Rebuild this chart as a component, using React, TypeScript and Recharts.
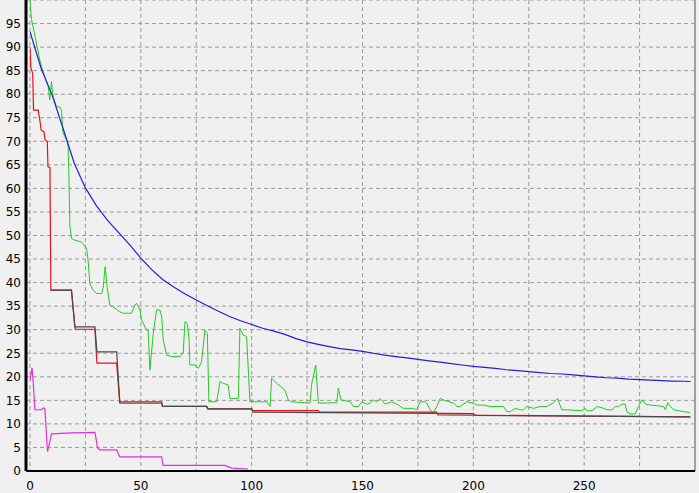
import React from 'react';
import {
  LineChart,
  Line,
  XAxis,
  YAxis,
  CartesianGrid,
  ReferenceLine,
} from 'recharts';

// x tick positions (labels only on every second one) and y ticks
const xTicks = [0, 25, 50, 75, 100, 125, 150, 175, 200, 225, 250, 275];
const yTicks = [0, 5, 10, 15, 20, 25, 30, 35, 40, 45, 50, 55, 60, 65, 70, 75, 80, 85, 90, 95];
// small marks under the x axis, one per iteration
const minorTicks = Array.from({ length: 300 }, (_, i) => i);

// smooth blue curve, sampled every 5 iterations
const blueX = [
  0, 5, 10, 15, 20, 25, 30, 35, 40, 45, 50, 55, 60, 65, 70, 75, 80, 85, 90, 95,
  100, 105, 110, 115, 120, 125, 130, 135, 140, 145, 150, 155, 160, 165, 170, 175,
  180, 185, 190, 195, 200, 205, 210, 215, 220, 225, 230, 235, 240, 245, 250, 255,
  260, 265, 270, 275, 280, 285, 290, 295, 298,
];
const blueY = [
  93.3, 85.5, 79.8, 72.6, 65.3, 60.1, 56.3, 53.2, 50.6, 48, 45.2, 42.7, 40.6, 39, 37.6, 36.3, 35.1, 33.9, 32.8, 31.9,
  31.1, 30.3, 29.7, 29, 28.1, 27.4, 26.9, 26.4, 26, 25.7, 25.4, 25, 24.6, 24.3, 24, 23.7,
  23.4, 23.1, 22.8, 22.5, 22.2, 22, 21.8, 21.5, 21.3, 21.1, 20.9, 20.7, 20.6, 20.4, 20.2, 20,
  19.8, 19.7, 19.5, 19.4, 19.3, 19.2, 19.1, 19.05, 19,
];

// noisy green run
const greenPts: [number, number][] = [
  [0, 100], [0.7, 95.8], [2.9, 90.9], [4.4, 87.3], [5.2, 85.8], [8.2, 81.6], [8.9, 78.8], [9.7, 82.7],
  [10.4, 79.5], [12, 77.3], [13.5, 77.3], [14.2, 76.6], [14.9, 71.8], [16.5, 70.3], [17.2, 68.9],
  [17.5, 63.9], [18, 51.9], [18.7, 49.4], [20.2, 49], [23.3, 48.6], [25.5, 47.3], [26.2, 44.8],
  [27, 39.8], [28.4, 38.4], [30, 37.7], [32.3, 37.7], [33, 38.8], [33.9, 43.4], [34.8, 39.1],
  [36, 35.2], [37.4, 34.9], [40.5, 33.8], [41.9, 33.5], [45.8, 33.5], [47.3, 35.2], [48.1, 35.6],
  [49.6, 34.2], [50.3, 32.1], [52.6, 29.9], [53.3, 29.9], [54.1, 21.4], [55.6, 29.2], [57.1, 34.2],
  [58.6, 34.2], [59.4, 32.8], [60.1, 27.8], [61.6, 24.6], [63.9, 24.3], [67.6, 24.3], [69.1, 25],
  [69.9, 31.7], [70.9, 31.4], [71.8, 27.8], [72.1, 22.5], [74.4, 22.5], [75.9, 21.8], [77.4, 23.2],
  [78.9, 29.9], [80, 29.2], [80.7, 14.7], [84.2, 14.7], [85.7, 19], [87.2, 18.6], [89.4, 18.3],
  [90.2, 15.4], [94, 15.4], [94.7, 30.3], [96.2, 28.9], [97.7, 28.5], [98.5, 21.4], [99.2, 14.7],
  [106.8, 14.7], [108.3, 13.7], [109, 19.7], [111.3, 18.6], [115, 17.2], [116.5, 15.1], [118, 14.7],
  [126.3, 14.4], [127.1, 18.6], [128.9, 22.5], [130.1, 14.4], [138.4, 14.5], [139.1, 17.6],
  [140.3, 15.1], [144.4, 14.7], [145.9, 13.7], [148.1, 13.7], [149.7, 14.7], [151.9, 14.2],
  [153.4, 14.4], [154.9, 15.1], [156.4, 14.7], [157.9, 15.4], [160.2, 14.2], [163.2, 14.7],
  [165.5, 14.2], [168.4, 13.3], [173, 13.3], [174.5, 13], [176, 14.7], [178.2, 14.7], [179, 14.4],
  [180.5, 13], [182, 12.3], [183.5, 13.7], [185, 15.4], [186.5, 15.1], [191.1, 14.4], [192.6, 13.7],
  [194, 13.7], [197.1, 14.7], [200, 14.4], [201.6, 14], [204.6, 14], [207.6, 13.7], [213.6, 13.7],
  [215.1, 12.6], [216.6, 12.6], [218.9, 13.3], [221.1, 13], [222.6, 13], [224.2, 13.7], [227.2, 13.3],
  [230.2, 13.7], [233.2, 13.7], [236.2, 14.5], [238, 15.4], [239.9, 13], [241.9, 13], [249, 12.8],
  [250.5, 13.3], [251.2, 12.8], [253.5, 12.8], [255.8, 13.7], [258.8, 13.3], [260.3, 13], [262.6, 13],
  [264.1, 13.7], [265.5, 13.7], [267, 14.2], [268.5, 14.2], [269.3, 12.6], [270.7, 12.1], [273, 12.1],
  [274.5, 13.7], [276, 15.1], [277.6, 14.2], [279.8, 14], [285.9, 13.7], [286.6, 13], [287.7, 14.5],
  [288.9, 13.7], [290.4, 13], [294.9, 12.6], [297.9, 12.4],
];

// red step run
const redPts: [number, number][] = [
  [0, 90], [0.4, 85.5], [1.2, 84.5], [1.6, 76.6], [3.7, 76.6], [4.6, 74], [5, 72.4], [6.3, 72],
  [6.8, 70.3], [7.8, 70], [8.1, 64.6], [9, 64.4], [9.4, 38.4], [18.7, 38.4], [20.4, 30.1],
  [29.3, 30.1], [30.2, 22.9], [39.1, 22.9], [40.5, 14.4], [59.4, 14.4], [59.8, 13.7], [79.7, 13.7],
  [80.2, 13.2], [100, 13.2], [100.5, 12.8], [130, 12.8], [130.5, 12.5], [183.5, 12.5], [184, 11.9],
  [297.9, 11.5],
];

// dark grey step run
const greyPts: [number, number][] = [
  [9.4, 38.4], [18.7, 38.4], [20.2, 30.6], [29.3, 30.6], [30.2, 25.3], [39.1, 25.3], [40.5, 14.7],
  [59.4, 14.7], [59.8, 13.7], [79.7, 13.7], [80.2, 13.2], [100, 13.2], [100.5, 12.5], [200, 12.2],
  [201, 11.8], [297.9, 11.5],
];

// magenta run
const magentaPts: [number, number][] = [
  [0, 19.3], [0.9, 21.9], [1.4, 19.3], [2.2, 13], [5.2, 13], [6, 13.4], [6.7, 13.3], [7.9, 4.1],
  [9.7, 7.9], [18.7, 8.1], [29.3, 8.2], [30.5, 4.9], [31.5, 4.5], [39.1, 4.5], [40.5, 3],
  [59.4, 3], [60, 1.2], [87.9, 1.2], [91, 0.6], [98.3, 0.4],
];

const toRows = (pts: [number, number][]) => pts.map(([x, y]) => ({ x, y }));
const blueRows = blueX.map((x, i) => ({ x, y: blueY[i] }));

const tickStyle = { fontFamily: 'DejaVu Sans', fontSize: 12, fill: '#000' };

export default function App() {
  return (
    <div style={{ position: 'absolute', left: 0, top: 0, width: 699, height: 493, background: '#f0f0f0' }}>
      <LineChart width={699} height={493} margin={{ top: 0, right: 4, bottom: 0, left: 0 }}>
        <CartesianGrid stroke="#9a9a9a" strokeDasharray="4 3" />
        <XAxis
          dataKey="x"
          type="number"
          domain={[0, 300]}
          allowDataOverflow
          ticks={xTicks}
          interval={0}
          tickFormatter={(v: number) => (v % 50 === 0 ? String(v) : '')}
          padding={{ left: 4, right: 0 }}
          height={22}
          tickLine={false}
          tickSize={4}
          tickMargin={6}
          axisLine={{ stroke: '#000', strokeWidth: 2 }}
          tick={tickStyle}
        />
        <XAxis
          xAxisId="minor"
          dataKey="x"
          type="number"
          domain={[0, 300]}
          allowDataOverflow
          ticks={minorTicks}
          interval={0}
          tickFormatter={() => ''}
          padding={{ left: 4, right: 0 }}
          height={0}
          axisLine={false}
          tickLine={{ stroke: '#555' }}
          tickSize={2}
        />
        <YAxis
          type="number"
          domain={[0, 100]}
          allowDataOverflow
          ticks={yTicks}
          interval={0}
          width={26}
          tickLine={false}
          tickSize={4}
          tickMargin={1}
          axisLine={{ stroke: '#000', strokeWidth: 3 }}
          tick={tickStyle}
        />
        <ReferenceLine x={300} stroke="#a0a0a0" strokeWidth={2} ifOverflow="visible" />
        <Line data={toRows(greenPts)} dataKey="y" type="linear" stroke="#22cc22" strokeWidth={1} dot={false} isAnimationActive={false} />
        <Line data={blueRows} dataKey="y" type="linear" stroke="#2020d8" strokeWidth={1.2} dot={false} isAnimationActive={false} />
        <Line data={toRows(redPts)} dataKey="y" type="linear" stroke="#e81018" strokeWidth={1.2} dot={false} isAnimationActive={false} />
        <Line data={toRows(greyPts)} dataKey="y" type="linear" stroke="#4a4a4a" strokeWidth={1.2} dot={false} isAnimationActive={false} />
        <Line data={toRows(magentaPts)} dataKey="y" type="linear" stroke="#e030e0" strokeWidth={1.2} dot={false} isAnimationActive={false} />
      </LineChart>
    </div>
  );
}
